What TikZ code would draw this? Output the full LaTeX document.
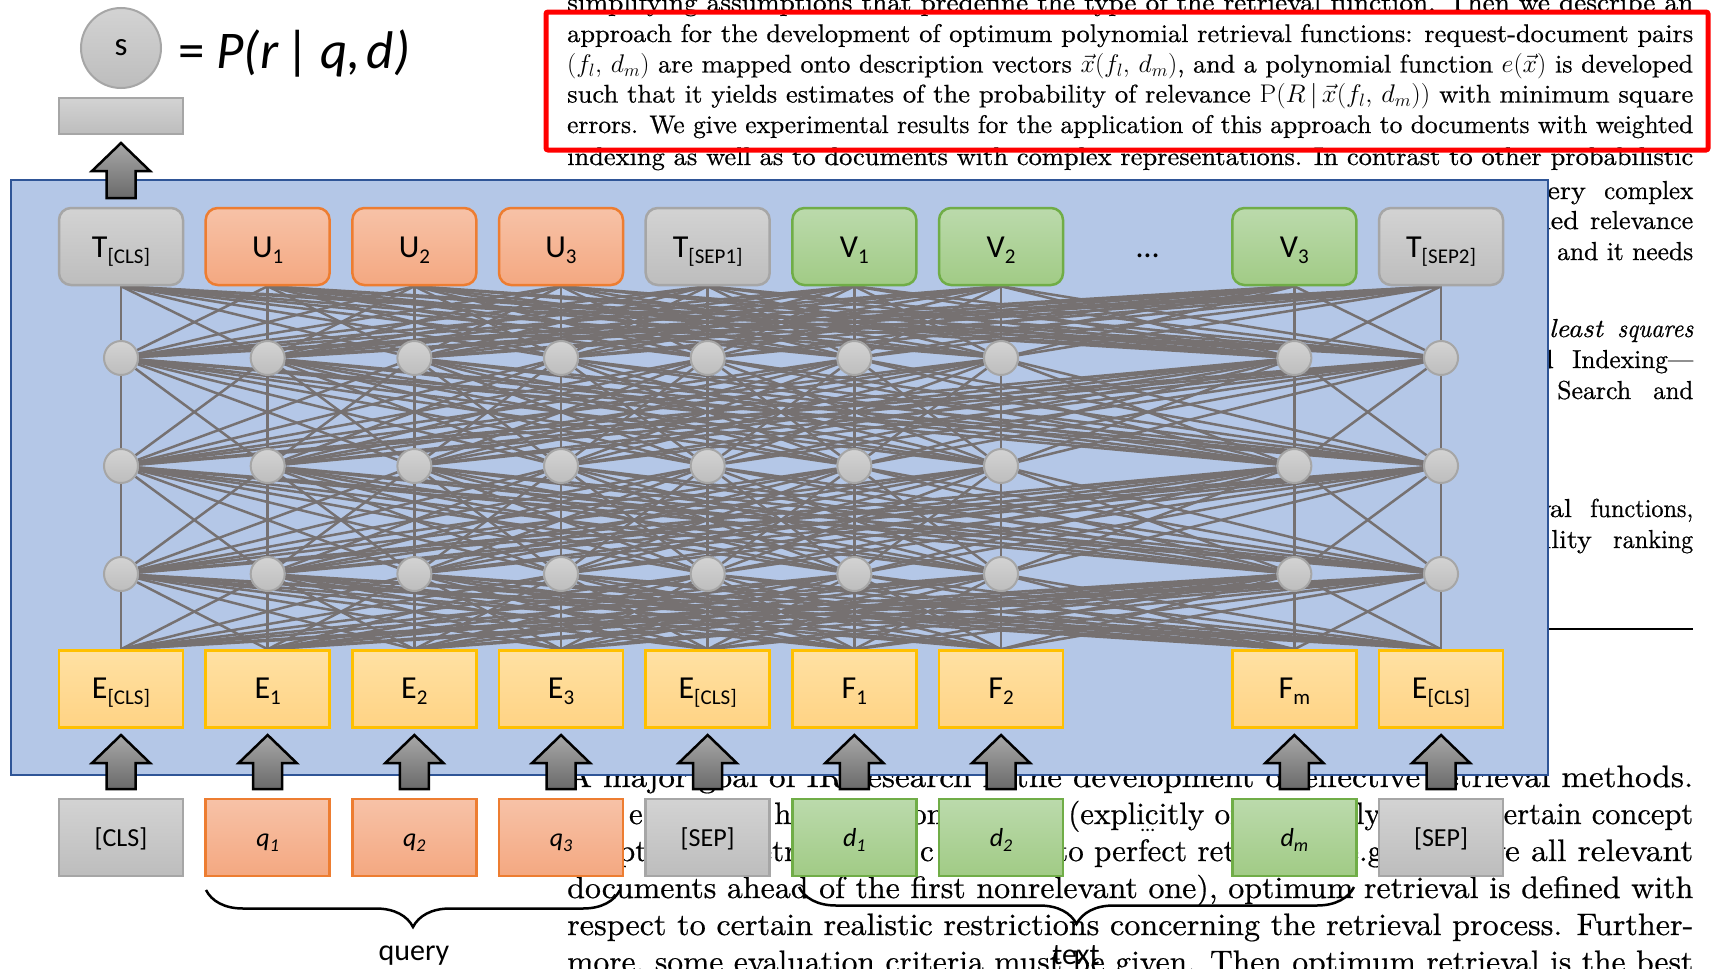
\RequirePackage{fix-cm}
\documentclass[tikz,border=0pt]{standalone}
\usepackage{graphicx}
\usepackage{fontspec}
\newfontfamily\calib{Carlito}
\newfontfamily\scanfont{lmroman10-regular.otf}[ItalicFont=lmroman10-italic.otf, FakeBold=0.6]
\usetikzlibrary{decorations.pathreplacing}
\definecolor{panelfill}{HTML}{B4C7E7}
\definecolor{panelline}{HTML}{2F5597}
\definecolor{grayA}{HTML}{D3D3D3}
\definecolor{grayB}{HTML}{BDBDBD}
\definecolor{grayline}{HTML}{A6A6A6}
\definecolor{orA}{HTML}{F7C2A7}
\definecolor{orB}{HTML}{F4A881}
\definecolor{orline}{HTML}{ED7D31}
\definecolor{grA}{HTML}{BBDAAC}
\definecolor{grB}{HTML}{A1CB85}
\definecolor{grline}{HTML}{70AD47}
\definecolor{yeA}{HTML}{FFE1A3}
\definecolor{yeB}{HTML}{FFD384}
\definecolor{yeline}{HTML}{FFC000}
\definecolor{wirec}{HTML}{767171}
\definecolor{arrA}{HTML}{A8A8A8}
\definecolor{arrB}{HTML}{6A6A6A}
\definecolor{redbox}{HTML}{FF0000}
\newcommand\lsub[1]{\raisebox{-6pt}{\fontsize{21}{24}\selectfont #1}}
\newcommand\lsubq[1]{\raisebox{-5pt}{\fontsize{18}{20}\selectfont #1}}
\newcommand\fitline[1]{\resizebox{1126pt}{\height}{#1}}
\newcommand\fitto[2]{\resizebox{#1}{\height}{#2}}
\newcommand\wide[1]{\scalebox{1.08}[1]{#1}}
\newcommand\blockup[3]{\draw[blockarrow] (#1,#2) -- (#1+29,#2+28) -- (#1+14.5,#2+28) -- (#1+14.5,#3) -- (#1-14.5,#3) -- (#1-14.5,#2+28) -- (#1-29,#2+28) -- cycle;}
\pgfdeclarelayer{bg}
\pgfdeclarelayer{paper}
\pgfdeclarelayer{panel}
\pgfdeclarelayer{wires}
\pgfsetlayers{bg,paper,panel,wires,main}
\begin{document}
\begin{tikzpicture}[x=1pt,y=-1pt,
  paper/.style={anchor=base west, inner sep=0pt, font=\scanfont\fontsize{25.5}{31}\selectfont},
  paperR/.style={anchor=base east, inner sep=0pt, font=\scanfont\fontsize{26}{31}\selectfont},
  paperRW/.style={anchor=base west, inner sep=0pt, font=\scanfont\fontsize{26}{31}\selectfont},
  paperB/.style={anchor=base west, inner sep=0pt, font=\scanfont\fontsize{31}{37}\selectfont},
  paperBR/.style={anchor=base east, inner sep=0pt, font=\scanfont\fontsize{31}{37}\selectfont},
  box/.style={rectangle, minimum width=124pt, minimum height=77pt, inner sep=0pt, line width=2.5pt, font=\calib\fontsize{32}{38}\selectfont, text height=30pt, text depth=8pt},
  tgray/.style={box, rounded corners=12pt, draw=grayline, top color=grayA, bottom color=grayB},
  torange/.style={box, rounded corners=12pt, draw=orline, top color=orA, bottom color=orB},
  tgreen/.style={box, rounded corners=12pt, draw=grline, top color=grA, bottom color=grB},
  ebox/.style={box, text height=28pt, text depth=10pt, draw=yeline, top color=yeA, bottom color=yeB},
  inbox/.style={box, font=\calib\fontsize{26}{31}\selectfont, text height=24.7pt, text depth=7pt},
  igray/.style={inbox, draw=grayline, top color=grayA, bottom color=grayB},
  iorange/.style={inbox, draw=orline, top color=orA, bottom color=orB},
  igreen/.style={inbox, draw=grline, top color=grA, bottom color=grB},
  neuron/.style={circle, minimum size=34pt, inner sep=0pt, line width=2pt, draw=grayline, top color=grayA, bottom color=grayB},
  wire/.style={draw=wirec, line width=2.5pt},
  blockarrow/.style={draw=black, line width=2.5pt, line join=miter, top color=arrA, bottom color=arrB},
  lab/.style={font=\calib\fontsize{30}{36}\selectfont, inner sep=0pt},
  bracestyle/.style={draw=black, line width=2.5pt, decorate, decoration={brace, mirror, amplitude=37pt}}
]
\useasboundingbox (0,0) rectangle (1716,969);
\begin{pgfonlayer}{bg}
\fill[white] (0,0) rectangle (1716,969);
\end{pgfonlayer}

% ---------- scanned paper text (beneath) ----------
\begin{pgfonlayer}{paper}
\node[paper] (p1) at (567,11) {\fitline{simplifying assumptions that predefine the type of the retrieval function. Then we describe an}};
\node[paper] (p2) at (567,42) {\fitline{approach for the development of optimum polynomial retrieval functions: request-document pairs}};
\node[paper] (p3) at (567,72.5) {\fitline{$(f_l,\, d_m)$ are mapped onto description vectors $\vec{x}(f_l,\, d_m)$, and a polynomial function $e(\vec{x})$ is developed}};
\node[paper] (p4) at (567,102.5) {\fitline{such that it yields estimates of the probability of relevance $\mathrm{P}(R\,|\,\vec{x}(f_l,\, d_m))$ with minimum square}};
\node[paper] (p5) at (567,133) {\fitline{errors. We give experimental results for the application of this approach to documents with weighted}};
\node[paper] (p6) at (567,165) {\fitline{indexing as well as to documents with complex representations. In contrast to other probabilistic}};
% right column fragments
\node[paperR] (r1a) at (1586,199) {\wide{very}};
\node[paperRW] (r1b) at (1604,199) {\fitto{89pt}{complex}};
\node[paperR] (r2a) at (1579,229) {\wide{multivalued}};
\node[paperRW] (r2b) at (1590,229) {\fitto{103pt}{relevance}};
\node[paperRW] (r3) at (1557,260) {\fitto{136pt}{and it needs}};
\node[paperR] (r4a) at (1603,337) {\wide{\itshape least}};
\node[paperRW] (r4b) at (1617,337) {\fitto{76pt}{\itshape squares}};
\node[paperR] (r5a) at (1554,368) {\wide{and}};
\node[paperRW] (r5b) at (1572,368) {\fitto{121pt}{Indexing\textemdash}};
\node[paperRW] (r6a) at (1557,399) {\fitto{74pt}{Search}};
\node[paperRW] (r6b) at (1653,399) {\fitto{40pt}{and}};
\node[paperR] (r7a) at (1572,517) {\wide{retrieval}};
\node[paperRW] (r7b) at (1590,517) {\fitto{103pt}{functions,}};
\node[paperR] (r8a) at (1592,548) {\wide{probability}};
\node[paperRW] (r8b) at (1613,548) {\fitto{80pt}{ranking}};
\coordinate (ruleL) at (1500,629);
\coordinate (ruleR) at (1693,629);
\draw[line width=2pt] (ruleL) -- (ruleR);
% bottom paragraph
\node[paperB] (b1) at (567,787) {\fitline{A major goal of IR research is the development of effective retrieval methods.}};
\node[paperBR] (b2a) at (643,824) {e};
\node[paperB] (b2b) at (774,824) {his};
\node[paperB] (b2c) at (911,824) {only};
\node[paperB] (b2d) at (1068,824) {(explicitly or};
\node[paperBR] (b2e) at (1381,824) {implicitly};
\node[paperB] (b2f) at (1490,824) {\fitto{203pt}{certain concept}};
\node[paperB] (b3a) at (567,861) {of optimum};
\node[paperB] (b3b) at (746,861) {retrieval.};
\node[paperBR] (b3c) at (934,861) {In c};
\node[paperB] (b3d) at (1056,861) {to perfect retrieval};
\node[paperB] (b3e) at (1333,861) {(e.g.};
\node[paperB] (b3f) at (1488,861) {\fitto{205pt}{ve all relevant}};
\node[paperB] (b4) at (567,898) {\fitline{documents ahead of the first nonrelevant one), optimum retrieval is defined with}};
\node[paperB] (b5) at (567,935) {\fitline{respect to certain realistic restrictions concerning the retrieval process. Further-}};
\node[paperB] (b6) at (567,972) {\fitline{more, some evaluation criteria must be given. Then optimum retrieval is the best}};
\draw[draw=redbox, line width=5pt, rounded corners=2pt] (546,12) rectangle (1708,150);
\end{pgfonlayer}

% ---------- blue panel ----------
\begin{pgfonlayer}{panel}
\draw[fill=panelfill, draw=panelline, line width=2.5pt] (11,180) rectangle (1548,775);
\end{pgfonlayer}

% ---------- top output ----------
\node[neuron, minimum size=80pt, font=\calib\fontsize{33}{38}\selectfont] (s) at (121,48) {s};
\node[anchor=base west, inner sep=0pt, font=\calib\fontsize{53}{64}\selectfont] (formula) at (178,68) {= \textit{P(r}\hspace{0.12em}|\hspace{0.2em}\textit{q,\hspace{0.12em}d)}};
\node[rectangle, minimum width=124pt, minimum height=36pt, inner sep=0pt, line width=2.5pt, draw=grayline, top color=grayA, bottom color=grayB] (pool) at (121,116) {};
\blockup{121}{143}{198}

% ---------- T row ----------
\foreach \i/\sty/\lbl in {0/tgray/{T\lsub{[CLS]}}, 1/torange/{U\lsub{1}}, 2/torange/{U\lsub{2}}, 3/torange/{U\lsub{3}}, 4/tgray/{T\lsub{[SEP1]}}, 5/tgreen/{V\lsub{1}}, 6/tgreen/{V\lsub{2}}, 8/tgreen/{V\lsub{3}}, 9/tgray/{T\lsub{[SEP2]}}}
  {\node[\sty] (T\i) at ({121+146.67*\i},246.5) {\lbl};}
\node[box, draw=none] (Tdots) at ({121+146.67*7},246.5) {\ldots};

% ---------- hidden layers ----------
\foreach \r/\yy in {1/358,2/466,3/574}
  {\foreach \i in {0,1,2,3,4,5,6,8,9}
    {\node[neuron] (c\r-\i) at ({121+146.67*\i},\yy) {};}}

% ---------- E row ----------
\foreach \i/\lbl in {0/{E\lsub{[CLS]}}, 1/{E\lsub{1}}, 2/{E\lsub{2}}, 3/{E\lsub{3}}, 4/{E\lsub{[CLS]}}, 5/{F\lsub{1}}, 6/{F\lsub{2}}, 8/{F\lsub{m}}, 9/{E\lsub{[CLS]}}}
  {\node[ebox] (E\i) at ({121+146.67*\i},689) {\lbl};}

% ---------- wires ----------
\begin{pgfonlayer}{wires}
\foreach \i in {0,1,2,3,4,5,6,8,9}
  {\foreach \j in {0,1,2,3,4,5,6,8,9} {
    \draw[wire] (T\i.south) -- (c1-\j);
    \draw[wire] (c1-\i) -- (c2-\j);
    \draw[wire] (c2-\i) -- (c3-\j);
    \draw[wire] (c3-\i) -- (E\j.north);
  }}
\end{pgfonlayer}

% ---------- input row ----------
\foreach \i/\sty/\lbl in {0/igray/{[CLS]}, 1/iorange/{\textit{q\lsubq{1}}}, 2/iorange/{\textit{q\lsubq{2}}}, 3/iorange/{\textit{q\lsubq{3}}}, 4/igray/{[SEP]}, 5/igreen/{\textit{d\lsubq{1}}}, 6/igreen/{\textit{d\lsubq{2}}}, 8/igreen/{\textit{d\lsubq{m}}}, 9/igray/{[SEP]}}
  {\node[\sty] (B\i) at ({121+146.67*\i},837.5) {\lbl};}
\node[inner sep=0pt, font=\calib\fontsize{20}{24}\selectfont] (Bdots) at ({121+146.67*7},830) {\ldots};

% ---------- block arrows ----------
\foreach \i in {0,1,2,3,4,5,6,8,9}
  {\pgfmathsetmacro\ax{121+146.67*\i}\blockup{\ax}{735}{789}}

% ---------- braces ----------
\coordinate (qL) at (206,890);
\coordinate (qR) at (620,890);
\coordinate (tL) at (799,887);
\coordinate (tR) at (1354,887);
\draw[bracestyle] (qL) -- (qR);
\draw[bracestyle] (tL) -- (tR);
\node[lab] (query) at (414,956) {query};
\node[lab] (textlab) at (1076,955) {text};
\end{tikzpicture}
\end{document}
